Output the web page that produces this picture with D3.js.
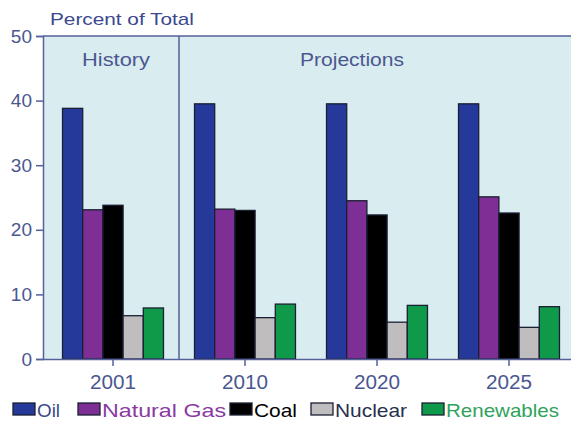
<!DOCTYPE html>
<html>
<head>
<meta charset="utf-8">
<script src="https://cdn.jsdelivr.net/npm/d3@7"></script>
<style>
  html, body { margin: 0; padding: 0; background: #ffffff; }
  svg { display: block; font-family: "Liberation Sans", Arial, sans-serif; }
</style>
</head>
<body>
<svg id="chart" width="571" height="426"></svg>
<script>
// ---- data ----
const years = ["2001", "2010", "2020", "2025"];
const fuels = ["Oil", "Natural Gas", "Coal", "Nuclear", "Renewables"];
const oil = [38.8, 39.5, 39.5, 39.5];
const naturalGas = [23.1, 23.2, 24.5, 25.1];
const coal = [23.8, 23.0, 22.3, 22.6];
const nuclear = [6.7, 6.4, 5.7, 4.9];
const renewables = [7.9, 8.5, 8.3, 8.1];
const yTicks = [0, 10, 20, 30, 40, 50];
const periodLabels = ["History", "Projections"];

(function () {
const seriesValues = [oil, naturalGas, coal, nuclear, renewables];
const fillColors = ["#25399a", "#7d2f95", "#000000", "#bfbdbd", "#0f9a4a"];
const legendTextColors = ["#3a478a", "#8a3aa2", "#000000", "#27304f", "#2fa35c"];

const svg = d3.select("#chart");
const pL = 43, pR = 571, pT = 36, pB = 359;
const axisColor = "#56609a";
const textColor = "#4b5790";

const y = d3.scaleLinear().domain([0, 50]).range([pB, pT]);
const x0 = d3.scaleBand().domain(years).range([47, 575]).paddingInner(0.235).paddingOuter(0.1175);
const x1 = d3.scaleBand().domain(fuels).range([0, x0.bandwidth()]);

// plot background
svg.append("rect").attr("x", pL).attr("y", pT)
  .attr("width", pR - pL).attr("height", pB - pT)
  .attr("fill", "#d9ecef");

// top border
svg.append("line").attr("x1", pL).attr("x2", pR).attr("y1", pT).attr("y2", pT)
  .attr("stroke", axisColor).attr("stroke-width", 1.5);

// divider between history & projections
const divX = (x0("2001") + x0.bandwidth() + x0("2010")) / 2;
svg.append("line").attr("x1", divX).attr("x2", divX).attr("y1", pT).attr("y2", pB)
  .attr("stroke", axisColor).attr("stroke-width", 1.5);

// period labels
svg.append("text").attr("x", 116).attr("y", 66).attr("text-anchor", "middle")
  .attr("font-size", 18).attr("fill", textColor)
  .attr("textLength", 68).attr("lengthAdjust", "spacingAndGlyphs").text(periodLabels[0]);
svg.append("text").attr("x", 352).attr("y", 66).attr("text-anchor", "middle")
  .attr("font-size", 18).attr("fill", textColor)
  .attr("textLength", 104).attr("lengthAdjust", "spacingAndGlyphs").text(periodLabels[1]);

// bars
const groups = svg.append("g").selectAll("g").data(years).join("g")
  .attr("transform", d => `translate(${x0(d)},0)`);
groups.selectAll("rect")
  .data((yr, i) => fuels.map((f, j) => ({ fuel: f, value: seriesValues[j][i], j })))
  .join("rect")
  .attr("x", d => x1(d.fuel))
  .attr("y", d => y(d.value))
  .attr("width", x1.bandwidth())
  .attr("height", d => pB - y(d.value))
  .attr("fill", d => fillColors[d.j])
  .attr("stroke", "#1b1f33")
  .attr("stroke-width", 1.3);

// y axis
const yAxis = svg.append("g").attr("transform", `translate(${pL},0)`)
  .call(d3.axisLeft(y).tickValues(yTicks).tickSize(7).tickPadding(4));
yAxis.select(".domain").attr("stroke", axisColor).attr("stroke-width", 1.5);
yAxis.selectAll(".tick line").attr("stroke", axisColor).attr("stroke-width", 1.5);
yAxis.selectAll(".tick text").attr("font-size", 19).attr("fill", textColor)
  .attr("font-family", "Liberation Sans, Arial, sans-serif");

// x axis
const xAxis = svg.append("g").attr("transform", `translate(0,${pB})`)
  .call(d3.axisBottom(x0).tickSize(7).tickPadding(9).tickSizeOuter(0));
xAxis.select(".domain").attr("d", `M${pL},0.5H${pR}`).attr("stroke", axisColor).attr("stroke-width", 1.5);
xAxis.selectAll(".tick line").attr("stroke", axisColor).attr("stroke-width", 1.5);
xAxis.selectAll(".tick text").attr("font-size", 20).attr("fill", textColor)
  .attr("font-family", "Liberation Sans, Arial, sans-serif")
  .attr("textLength", 46).attr("lengthAdjust", "spacingAndGlyphs");

// y title
svg.append("text").attr("x", 50).attr("y", 25).attr("font-size", 17).attr("fill", "#3b4890")
  .attr("textLength", 144).attr("lengthAdjust", "spacingAndGlyphs")
  .text("Percent of Total");

// legend
const legendSwatchX = [13, 78, 230, 311, 422];
const legendTextLen = [23, 124, 43, 72, 113];
const lg = svg.append("g").selectAll("g").data(fuels).join("g")
  .attr("transform", (d, i) => `translate(${legendSwatchX[i]},403)`);
lg.append("rect").attr("width", 22).attr("height", 12)
  .attr("fill", (d, i) => fillColors[i]).attr("stroke", "#1b1f33").attr("stroke-width", 1.3);
lg.append("text").attr("x", 24).attr("y", 14).attr("font-size", 19)
  .attr("fill", (d, i) => legendTextColors[i])
  .attr("textLength", (d, i) => legendTextLen[i]).attr("lengthAdjust", "spacingAndGlyphs")
  .text(d => d);
})();
</script>
</body>
</html>
